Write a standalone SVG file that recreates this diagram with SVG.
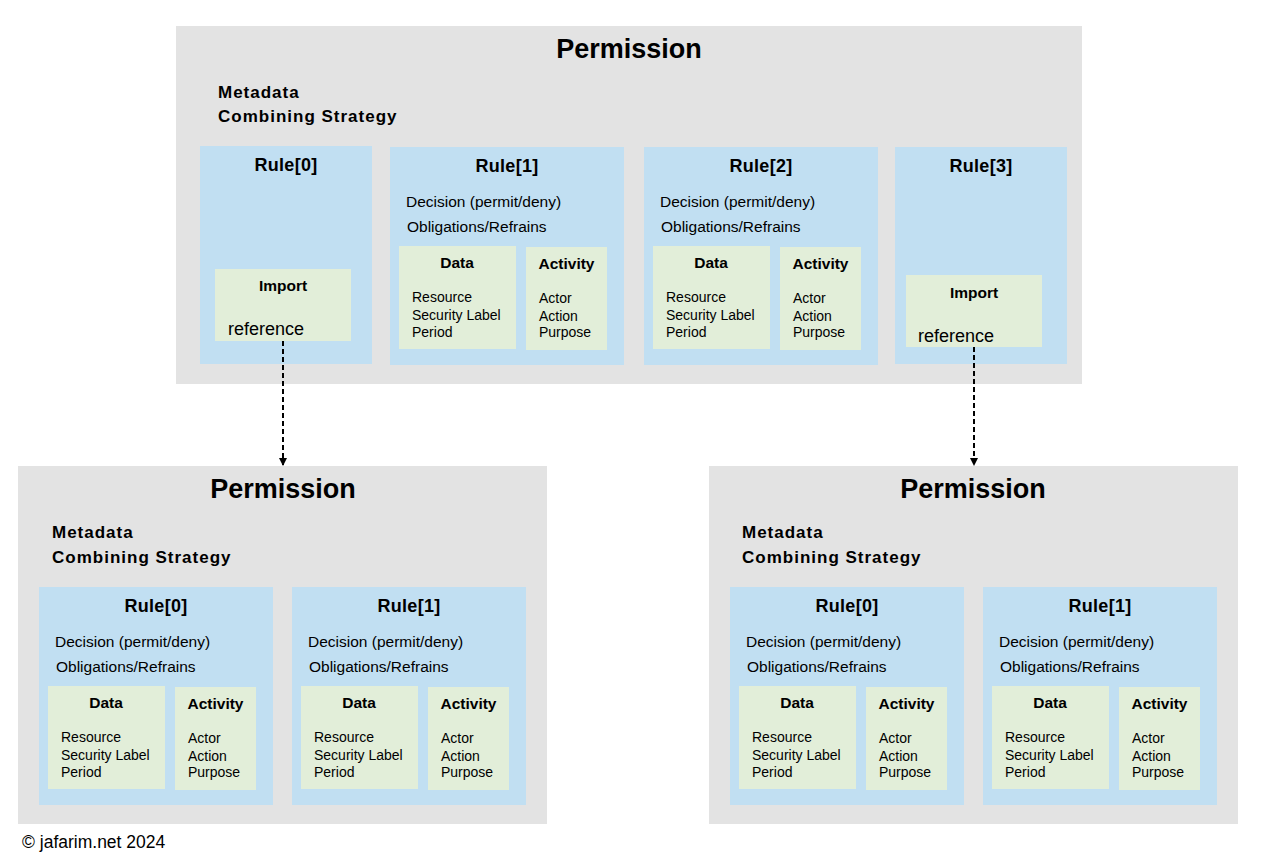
<svg xmlns="http://www.w3.org/2000/svg" width="1268" height="864" viewBox="0 0 1268 864">
<style>
.perm{fill:#e3e3e3}
.rule{fill:#c1dff2}
.box{fill:#e2eed9}
text{font-family:"Liberation Sans",Arial,sans-serif;fill:#000}
.ttl{font-size:27px;font-weight:bold;text-anchor:middle}
.meta{font-size:17px;font-weight:bold;letter-spacing:1px}
.rt{font-size:18px;font-weight:bold;text-anchor:middle;letter-spacing:0.3px}
.dec{font-size:15.5px}
.bt{font-size:15.5px;font-weight:bold;text-anchor:middle}
.it{font-size:14px}
.ref{font-size:18px}
.conn{fill:none;stroke:#000;stroke-width:2;stroke-dasharray:5 3}
</style>
<defs>
<marker id="ah" markerWidth="8" markerHeight="8" refX="7" refY="4" orient="auto" markerUnits="userSpaceOnUse">
<path d="M0,0 L8,4 L0,8 Z" fill="#000"/>
</marker>
<g id="fullrule">
<rect class="rule" x="0" y="0" width="234" height="218"/>
<text class="dec" x="16" y="60">Decision (permit/deny)</text>
<text class="dec" x="17" y="85">Obligations/Refrains</text>
<rect class="box" x="9" y="99" width="117" height="103"/>
<text class="bt" x="67" y="121">Data</text>
<text class="it" x="22" y="155">Resource</text>
<text class="it" x="22" y="173">Security Label</text>
<text class="it" x="22" y="190">Period</text>
<rect class="box" x="136" y="100" width="81" height="103"/>
<text class="bt" x="176.5" y="122">Activity</text>
<text class="it" x="149" y="156">Actor</text>
<text class="it" x="149" y="174">Action</text>
<text class="it" x="149" y="190">Purpose</text>
</g>
</defs>

<g id="perm-top">
<rect class="perm" x="176" y="26" width="906" height="358"/>
<text class="ttl" x="629" y="58">Permission</text>
<text class="meta" x="218" y="98">Metadata</text>
<text class="meta" x="218" y="122">Combining Strategy</text>
</g>
<g id="top-rule0">
<rect class="rule" x="200" y="146" width="172" height="218"/>
<text class="rt" x="286" y="171">Rule[0]</text>
<rect class="box" x="215" y="269" width="136" height="72"/>
<text class="bt" x="283" y="291">Import</text>
<text class="ref" x="228" y="335">reference</text>
</g>
<g id="top-rule1">
<use href="#fullrule" x="390" y="147"/>
<text class="rt" x="507" y="172">Rule[1]</text>
</g>
<g id="top-rule2">
<use href="#fullrule" x="644" y="147"/>
<text class="rt" x="761" y="172">Rule[2]</text>
</g>
<g id="top-rule3">
<rect class="rule" x="895" y="147" width="172" height="217"/>
<text class="rt" x="981" y="172">Rule[3]</text>
<rect class="box" x="906" y="275" width="136" height="72"/>
<text class="bt" x="974" y="298">Import</text>
<text class="ref" x="918" y="342">reference</text>
</g>

<g id="perm-left">
<rect class="perm" x="18" y="466" width="529" height="358"/>
<text class="ttl" x="283" y="498">Permission</text>
<text class="meta" x="52" y="538">Metadata</text>
<text class="meta" x="52" y="563">Combining Strategy</text>
</g>
<g id="left-rule0">
<use href="#fullrule" x="39" y="587"/>
<text class="rt" x="156" y="612">Rule[0]</text>
</g>
<g id="left-rule1">
<use href="#fullrule" x="292" y="587"/>
<text class="rt" x="409" y="612">Rule[1]</text>
</g>

<g id="perm-right">
<rect class="perm" x="709" y="466" width="529" height="358"/>
<text class="ttl" x="973" y="498">Permission</text>
<text class="meta" x="742" y="538">Metadata</text>
<text class="meta" x="742" y="563">Combining Strategy</text>
</g>
<g id="right-rule0">
<use href="#fullrule" x="730" y="587"/>
<text class="rt" x="847" y="612">Rule[0]</text>
</g>
<g id="right-rule1">
<use href="#fullrule" x="983" y="587"/>
<text class="rt" x="1100" y="612">Rule[1]</text>
</g>

<g id="connectors">
<line class="conn" x1="283" y1="341" x2="283" y2="465" marker-end="url(#ah)"/>
<line class="conn" x1="974" y1="347" x2="974" y2="465" marker-end="url(#ah)"/>
</g>

<text x="22" y="848" style="font-size:17.5px">© jafarim.net 2024</text>
</svg>
